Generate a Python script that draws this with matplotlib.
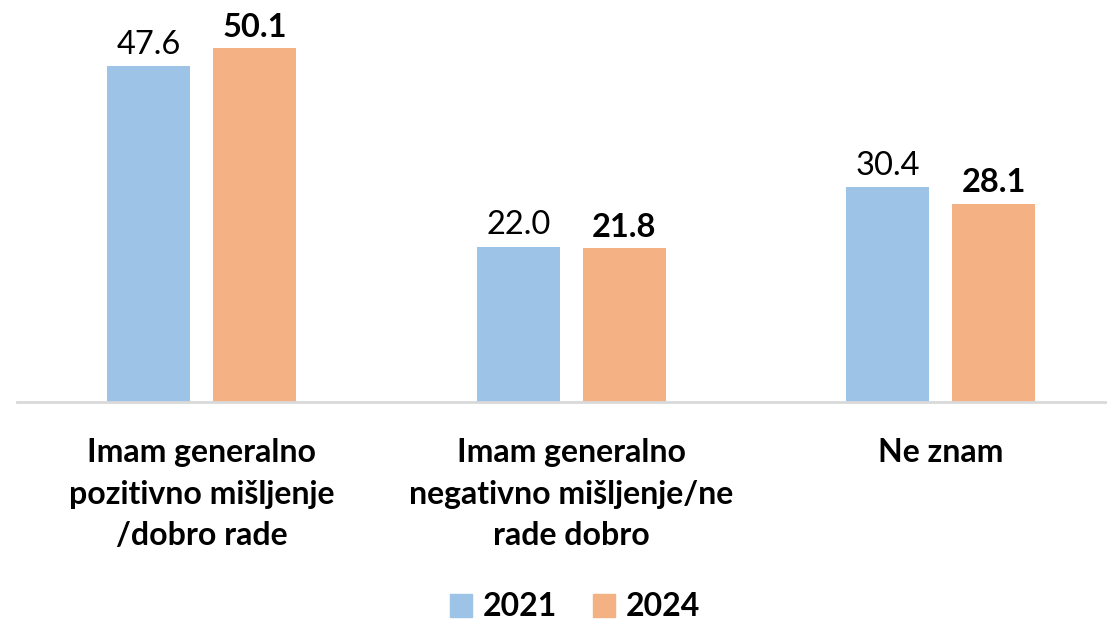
import matplotlib
matplotlib.use("Agg")
import matplotlib.pyplot as plt
import numpy as np
from matplotlib.patches import Patch

categories = ["Imam generalno\npozitivno mišljenje\n/dobro rade",
              "Imam generalno\nnegativno mišljenje/ne\nrade dobro",
              "Ne znam"]
series_names = ["2021", "2024"]
values_2021 = [47.6, 22.0, 30.4]
values_2024 = [50.1, 21.8, 28.1]
colors = ["#9DC3E6", "#F4B183"]

plt.rcParams['font.family'] = ['Lato', 'DejaVu Sans']

W, H = 1107, 620
fig = plt.figure(figsize=(W/100, H/100), dpi=100)
ax_left, ax_bottom = 17/W, 1 - 402/H
ax = fig.add_axes([ax_left, ax_bottom, 1 - ax_left, 402/H - 14/H])
ax.set_xlim(-0.5, -0.5 + (W - 17)/369.5)
ax.set_ylim(0, 388/7.06)

x = np.arange(len(categories))
bw = 83/369.5
off = 53/369.5
b1 = ax.bar(x - off, values_2021, bw, color=colors[0], zorder=2)
b2 = ax.bar(x + off, values_2024, bw, color=colors[1], zorder=2)

for rect, v in zip(b1, values_2021):
    ax.text(rect.get_x() + rect.get_width()/2, v + 0.9, f"{v:.1f}",
            ha="center", va="bottom", fontsize=23.5, color="black")
for rect, v in zip(b2, values_2024):
    ax.text(rect.get_x() + rect.get_width()/2, v + 0.9, f"{v:.1f}",
            ha="center", va="bottom", fontsize=23.5, fontweight="bold", color="black")

for s in ["top", "right", "left"]:
    ax.spines[s].set_visible(False)
ax.spines["bottom"].set_color("#d9d9d9")
ax.spines["bottom"].set_linewidth(2)
ax.set_yticks([])
ax.set_xticks(x)
ax.set_xticklabels(categories, fontsize=23, fontweight="bold", linespacing=1.52)
ax.tick_params(axis="x", length=0, pad=26)

handles = [Patch(color=colors[0]), Patch(color=colors[1])]
fig.legend(handles, series_names, loc="center", bbox_to_anchor=(575/W, 1 - 607/H),
           ncol=2, frameon=False, prop={"size": 23, "weight": "bold"},
           handlelength=0.7, handleheight=0.7, handletextpad=0.35, columnspacing=1.1)

fig.savefig("out.png", dpi=100)
